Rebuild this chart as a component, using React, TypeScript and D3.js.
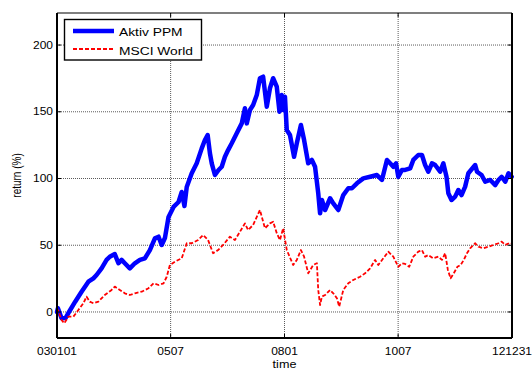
import React from "react";
import * as d3 from "d3";

const ppmYears = [
  2003.0, 2003.02, 2003.10, 2003.19, 2003.29, 2003.40, 2003.54, 2003.69, 2003.80, 2003.87, 2003.98,
  2004.09, 2004.16, 2004.27, 2004.35, 2004.42, 2004.49, 2004.60, 2004.71, 2004.82, 2004.93,
  2005.04, 2005.15, 2005.23, 2005.30, 2005.37, 2005.45, 2005.56, 2005.67, 2005.74, 2005.80, 2005.85, 2005.96,
  2006.07, 2006.18, 2006.25, 2006.31, 2006.36, 2006.40, 2006.47, 2006.55, 2006.62, 2006.69, 2006.76, 2006.84, 2006.95,
  2007.06, 2007.13, 2007.17, 2007.24, 2007.31, 2007.39, 2007.46, 2007.53, 2007.61, 2007.68, 2007.75, 2007.83, 2007.89, 2007.94, 2007.97,
  2008.01, 2008.05, 2008.12, 2008.21, 2008.27, 2008.36, 2008.43, 2008.52, 2008.60, 2008.67, 2008.74, 2008.78, 2008.82, 2008.89,
  2009.00, 2009.07, 2009.18, 2009.29, 2009.40, 2009.48, 2009.59, 2009.73, 2009.88,
  2010.03, 2010.14, 2010.25, 2010.32, 2010.39, 2010.45, 2010.50, 2010.58, 2010.65, 2010.76, 2010.83, 2010.94,
  2011.02, 2011.09, 2011.16, 2011.24, 2011.31, 2011.42, 2011.49, 2011.56, 2011.60, 2011.67, 2011.75, 2011.82, 2011.89, 2011.97,
  2012.04, 2012.19, 2012.23, 2012.33, 2012.41, 2012.52, 2012.63, 2012.70, 2012.77, 2012.85, 2012.92, 2012.99,
];
const ppmValues = [
  0, 2.8, -4.7, -4.5, 1.5, 7.7, 15.2, 22.7, 25.2, 27.7, 32.7,
  39.0, 41.4, 43.4, 36.5, 39.0, 36.5, 32.7, 36.5, 39.0, 40.2,
  46.4, 55.2, 56.4, 50.2, 55.4, 71.2, 78.7, 82.4, 89.9, 79.4, 93.6, 103.9,
  111.4, 122.6, 128.8, 132.6, 118.9, 111.4, 102.6, 106.4, 108.8, 116.3, 121.3, 126.4, 133.9,
  141.3, 152.6, 141.3, 151.3, 155.1, 162.5, 175.1, 176.3, 153.8, 167.6, 175.1, 168.8, 150.0, 162.5, 151.3,
  161.3, 136.3, 132.6, 116.3, 126.4, 140.1, 128.8, 111.4, 113.9, 108.8, 88.9, 73.9, 83.9, 76.4,
  85.2, 81.4, 76.4, 87.6, 92.7, 92.7, 96.4, 100.1, 101.3,
  102.6, 98.9, 113.9, 111.4, 108.8, 111.4, 101.3, 106.4, 106.4, 107.6, 113.9, 117.6,
  117.6, 110.1, 105.1, 111.4, 110.1, 105.1, 111.4, 101.3, 88.9, 83.9, 86.4, 91.4, 87.6, 93.9,
  103.9, 110.1, 105.1, 102.6, 97.6, 98.9, 95.1, 98.9, 101.3, 97.6, 103.9, 101.3,
];

const msciYears = [
  2003.0, 2003.02, 2003.10, 2003.16, 2003.25, 2003.36, 2003.47, 2003.58, 2003.65, 2003.72, 2003.80, 2003.91,
  2004.05, 2004.20, 2004.27, 2004.38, 2004.49, 2004.60, 2004.71, 2004.86, 2005.01, 2005.12, 2005.23, 2005.34, 2005.41, 2005.48, 2005.59,
  2005.74, 2005.85, 2005.96, 2006.10, 2006.21, 2006.32, 2006.43, 2006.54, 2006.65, 2006.80, 2006.91, 2007.02, 2007.13, 2007.20, 2007.31, 2007.46,
  2007.57, 2007.68, 2007.75, 2007.83, 2007.90, 2007.97, 2008.05, 2008.08, 2008.19, 2008.27, 2008.36, 2008.43, 2008.52, 2008.63, 2008.71,
  2008.74, 2008.78, 2008.82, 2008.89, 2009.00, 2009.07, 2009.15, 2009.20, 2009.29, 2009.40, 2009.51, 2009.66, 2009.77, 2009.88, 2009.99, 2010.06, 2010.17, 2010.28, 2010.39,
  2010.50, 2010.58, 2010.65, 2010.74, 2010.83, 2010.94, 2011.02, 2011.09, 2011.16, 2011.27, 2011.38, 2011.46, 2011.53, 2011.59, 2011.65, 2011.72, 2011.80, 2011.87, 2011.94, 2012.01, 2012.08,
  2012.19, 2012.26, 2012.37, 2012.48, 2012.59, 2012.70, 2012.77, 2012.85, 2012.96, 2012.99,
];
const msciValues = [
  0, 1.5, -6.0, -8.5, -3.5, -3.5, 1.5, 6.5, 11.5, 7.7, 6.5, 7.7,
  12.7, 16.5, 19.0, 16.5, 14.0, 12.7, 14.0, 15.2, 17.8, 21.5, 20.2, 21.5, 26.4, 35.2, 37.7,
  40.2, 51.5, 51.5, 53.9, 57.7, 53.9, 44.0, 46.4, 50.2, 56.4, 53.9, 60.1, 66.4, 61.4, 65.2, 76.4,
  62.7, 66.4, 67.6, 59.0, 53.9, 62.7, 46.4, 44.0, 35.2, 39.0, 46.4, 41.4, 29.0, 35.2, 36.5,
  16.5, 5.2, 11.5, 12.7, 16.5, 14.0, 10.3, 4.0, 16.5, 21.5, 24.0, 26.4, 29.0, 32.7, 39.0, 35.2, 40.2, 45.2, 41.4,
  33.9, 36.5, 36.0, 33.9, 41.4, 45.2, 46.4, 41.4, 42.7, 40.2, 41.4, 39.0, 44.0, 31.5, 25.2, 29.0, 33.9, 35.2, 39.0, 44.0, 47.7,
  51.5, 48.9, 47.7, 48.9, 50.2, 51.5, 52.7, 50.2, 51.9, 51.5,
];

const xTickDates = [
  new Date(2003, 0, 1),
  new Date(2005, 6, 1),
  new Date(2008, 0, 1),
  new Date(2010, 6, 1),
  new Date(2012, 11, 31),
];
const xTickLabels = ["030101", "0507", "0801", "1007", "121231"];
const yTicks = [0, 50, 100, 150, 200];
const seriesNames = ["Aktiv PPM", "MSCI World"];

const W = 532;
const H = 370;
const L = 57, R = 512, T = 13, B = 338;
const FONT = "'Liberation Sans', Arial, Helvetica, sans-serif";

function yearToDate(y: number): Date {
  const yr = Math.floor(y);
  const start = new Date(yr, 0, 1).getTime();
  const end = new Date(yr + 1, 0, 1).getTime();
  return new Date(start + (y - yr) * (end - start));
}

export default function App() {
  const x = d3.scaleTime().domain([new Date(2003, 0, 1), new Date(2012, 11, 31)]).range([L, R]);
  const y = d3.scaleLinear().domain([-19.5, 224]).range([B, T]);

  const ppm = ppmYears.map((t, i) => ({ d: yearToDate(t), v: ppmValues[i] }));
  const msci = msciYears.map((t, i) => ({ d: yearToDate(t), v: msciValues[i] }));
  const line = d3
    .line<{ d: Date; v: number }>()
    .x((p) => x(p.d))
    .y((p) => y(p.v));

  const tickLen = 4;

  return (
    <svg width={W} height={H} style={{ position: "absolute", left: 0, top: 0, background: "#fff" }}>
      <rect x={0} y={0} width={W} height={H} fill="#fff" />
      {/* grid */}
      {xTickDates.slice(1, -1).map((d, i) => (
        <line key={"gx" + i} x1={x(d)} x2={x(d)} y1={T} y2={B} stroke="#5a5a5a" strokeWidth={1} strokeDasharray="1,1" />
      ))}
      {yTicks.map((v, i) => (
        <line key={"gy" + i} x1={L} x2={R} y1={y(v)} y2={y(v)} stroke="#5a5a5a" strokeWidth={1} strokeDasharray="1,1" />
      ))}
      {/* data */}
      <path d={line(ppm) || ""} fill="none" stroke="#0000ff" strokeWidth={4.5} strokeLinejoin="round" strokeLinecap="round" />
      <path d={line(msci) || ""} fill="none" stroke="#ff0000" strokeWidth={1.8} strokeDasharray="4,2" strokeLinejoin="round" />
      {/* ticks */}
      {xTickDates.map((d, i) => (
        <g key={"tx" + i}>
          <line x1={x(d)} x2={x(d)} y1={B} y2={B - tickLen} stroke="#000" strokeWidth={1} />
          <line x1={x(d)} x2={x(d)} y1={T} y2={T + tickLen} stroke="#000" strokeWidth={1} />
          <text
            transform={`translate(${x(d)},${355}) scale(1.2,1)`}
            textAnchor="middle"
            fontFamily={FONT}
            fontSize={10}
            fill="#000"
          >
            {xTickLabels[i]}
          </text>
        </g>
      ))}
      {yTicks.map((v, i) => (
        <g key={"ty" + i}>
          <line x1={L} x2={L + tickLen} y1={y(v)} y2={y(v)} stroke="#000" strokeWidth={1} />
          <line x1={R} x2={R - tickLen} y1={y(v)} y2={y(v)} stroke="#000" strokeWidth={1} />
          <text
            transform={`translate(${L - 4},${y(v) + 3.6}) scale(1.2,1)`}
            textAnchor="end"
            fontFamily={FONT}
            fontSize={10}
            fill="#000"
          >
            {v}
          </text>
        </g>
      ))}
      {/* axes box */}
      <line x1={L} x2={R} y1={T} y2={T} stroke="#000" strokeWidth={1.2} />
      <line x1={L} x2={R} y1={B} y2={B} stroke="#000" strokeWidth={2} />
      <line x1={L} x2={L} y1={T} y2={B} stroke="#000" strokeWidth={2} />
      <line x1={R} x2={R} y1={T} y2={B} stroke="#000" strokeWidth={2} />
      {/* axis labels */}
      <text
        transform={`translate(${(L + R) / 2},${367.5}) scale(1.2,1)`}
        textAnchor="middle"
        fontFamily={FONT}
        fontSize={10.5}
        fill="#000"
      >
        time
      </text>
      <text
        transform={`translate(${21},${(T + B) / 2}) rotate(-90) scale(1,1.2)`}
        textAnchor="middle"
        fontFamily={FONT}
        fontSize={10}
        fill="#000"
      >
        return (%)
      </text>
      {/* legend */}
      <rect x={64.5} y={19.5} width={137} height={40.5} fill="#fff" stroke="#000" strokeWidth={1.4} />
      <line x1={73} x2={114} y1={31} y2={31} stroke="#0000ff" strokeWidth={4.5} />
      <line x1={73} x2={114} y1={49} y2={49} stroke="#ff0000" strokeWidth={1.8} strokeDasharray="4,2" />
      <text transform="translate(119,36) scale(1.2,1)" fontFamily={FONT} fontSize={11.5} fill="#000">
        {seriesNames[0]}
      </text>
      <text transform="translate(119,54.5) scale(1.2,1)" fontFamily={FONT} fontSize={11.5} fill="#000">
        {seriesNames[1]}
      </text>
    </svg>
  );
}
